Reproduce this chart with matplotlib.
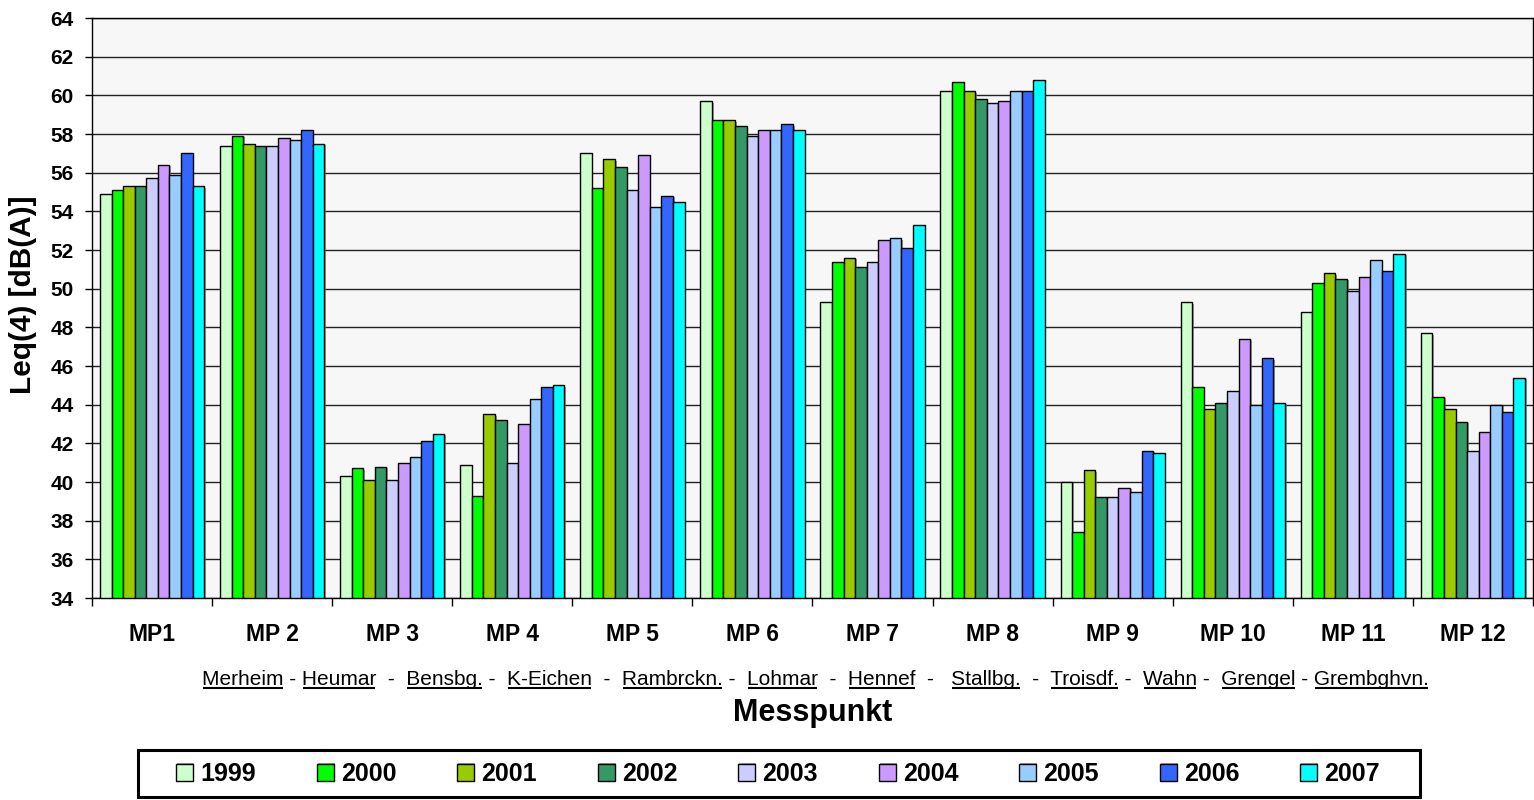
import numpy as np
import matplotlib
matplotlib.use("Agg")
import matplotlib.pyplot as plt
import matplotlib.patheffects as pe
from matplotlib.lines import Line2D
from matplotlib.patches import Rectangle
from matplotlib.font_manager import FontProperties

plt.rcParams['font.family'] = ['Liberation Sans', 'DejaVu Sans']

categories = ['MP1', 'MP 2', 'MP 3', 'MP 4', 'MP 5', 'MP 6', 'MP 7', 'MP 8', 'MP 9', 'MP 10', 'MP 11', 'MP 12']
years = ['1999', '2000', '2001', '2002', '2003', '2004', '2005', '2006', '2007']
colors = ['#CCFFCC', '#00FF00', '#99CC00', '#339966', '#CCCCFF', '#CC99FF', '#99CCFF', '#3366FF', '#00FFFF']

# rows = Messpunkt, cols = years 1999..2007
mp1 = [54.9, 55.1, 55.3, 55.3, 55.7, 56.4, 55.9, 57.0, 55.3]
mp2 = [57.4, 57.9, 57.5, 57.4, 57.4, 57.8, 57.7, 58.2, 57.5]
mp3 = [40.3, 40.7, 40.1, 40.8, 40.1, 41.0, 41.3, 42.1, 42.5]
mp4 = [40.9, 39.3, 43.5, 43.2, 41.0, 43.0, 44.3, 44.9, 45.0]
mp5 = [57.0, 55.2, 56.7, 56.3, 55.1, 56.9, 54.2, 54.8, 54.5]
mp6 = [59.7, 58.7, 58.7, 58.4, 57.9, 58.2, 58.2, 58.5, 58.2]
mp7 = [49.3, 51.4, 51.6, 51.1, 51.4, 52.5, 52.6, 52.1, 53.3]
mp8 = [60.2, 60.7, 60.2, 59.8, 59.6, 59.7, 60.2, 60.2, 60.8]
mp9 = [40.0, 37.4, 40.6, 39.2, 39.2, 39.7, 39.5, 41.6, 41.5]
mp10 = [49.3, 44.9, 43.8, 44.1, 44.7, 47.4, 44.0, 46.4, 44.1]
mp11 = [48.8, 50.3, 50.8, 50.5, 49.9, 50.6, 51.5, 50.9, 51.8]
mp12 = [47.7, 44.4, 43.8, 43.1, 41.6, 42.6, 44.0, 43.6, 45.4]
values = np.array([mp1, mp2, mp3, mp4, mp5, mp6, mp7, mp8, mp9, mp10, mp11, mp12])

places = ['Merheim', 'Heumar', 'Bensbg.', 'K-Eichen', 'Rambrckn.', 'Lohmar',
          'Hennef', 'Stallbg.', 'Troisdf.', 'Wahn', 'Grengel', 'Grembghvn.']
seps = [' - ', '  -  ', ' -  ', '  -  ', ' -  ', '  -  ', '  -   ', '  -  ', ' -  ', ' -  ', ' - ']

fig = plt.figure(figsize=(15.34, 8.0), dpi=100)
ax = fig.add_axes([0.0600, 0.2525, 0.9393, 0.725])
ax.set_facecolor('#F7F7F7')

x = np.arange(len(categories))
bw = 0.0965
shadow = [pe.SimplePatchShadow(offset=(1.2, -1.0), shadow_rgbFace='#777777', alpha=0.7), pe.Normal()]
for i, (yr, c) in enumerate(zip(years, colors)):
    off = (i - 4) * bw
    ax.bar(x + off, values[:, i] - 34, bottom=34, width=bw, color=c,
           edgecolor='black', linewidth=1.0, label=yr, zorder=3, path_effects=shadow)

ax.set_ylim(34, 64)
ax.set_xlim(-0.5, len(categories) - 0.5)
ax.set_yticks(np.arange(34, 65, 2))
ax.yaxis.grid(True, color='#222222', linewidth=1.0, zorder=1)
ax.set_axisbelow(True)
for lbl in ax.get_yticklabels():
    lbl.set_fontweight('bold')
ax.tick_params(axis='y', labelsize=15, length=5, width=1, direction='out', pad=8)

ax.set_xticks(x)
ax.set_xticklabels(categories, fontsize=16.5, fontweight='bold')
ax.tick_params(axis='x', length=0, pad=18)
ax.set_xticks(np.arange(-0.5, len(categories), 1), minor=True)
ax.tick_params(axis='x', which='minor', length=6, width=1, direction='out')

for s in ax.spines.values():
    s.set_color('black')
    s.set_linewidth(1.0)

fig.text(23 / 1534, 1 - 295 / 800, 'Leq(4) [dB(A)]', fontsize=21.5, fontweight='bold',
         rotation=90, ha='center', va='center')

# subtitle with underlined place names
fs_sub = 15
sub_parts = [places[0]]
for sep, name in zip(seps, places[1:]):
    sub_parts += [sep, name]
subtitle = ''.join(sub_parts)
x_start = 202 / 1534
y_base = 1 - 685 / 800
fig.text(x_start, y_base, subtitle, fontsize=fs_sub, ha='left', va='baseline')

fig.text(0.5 * (93 + 1533) / 1534, 1 - 713 / 800, 'Messpunkt', fontsize=22, fontweight='bold',
         ha='center', va='center')

# legend inside a separately drawn frame
fig.add_artist(Rectangle((138 / 1534, 1 - 797 / 800), (1420 - 138) / 1534, 47 / 800,
                         transform=fig.transFigure, facecolor='white', edgecolor='black',
                         linewidth=2.2, zorder=0))
leg = fig.legend(loc='center', bbox_to_anchor=(778 / 1534, 1 - 774 / 800), ncol=9,
                 prop={'size': 18, 'weight': 'bold'}, frameon=False,
                 handlelength=0.68, handleheight=0.68, handletextpad=0.28, columnspacing=2.44,
                 borderpad=0.2)
for h in leg.legend_handles:
    h.set_path_effects([pe.SimplePatchShadow(offset=(0.8, 0.8), shadow_rgbFace='#777777', alpha=0.7),
                        pe.Normal()])

fig.canvas.draw()
r = fig.canvas.get_renderer()
fp = FontProperties(family=['Liberation Sans', 'DejaVu Sans'], size=fs_sub)
x0_px = x_start * fig.bbox.width
ul_y = y_base - 3.0 / 800
prefix = ''
for part in sub_parts:
    if part in places:
        w_full, _, _ = r.get_text_width_height_descent(prefix + part, fp, ismath=False)
        w_name, _, _ = r.get_text_width_height_descent(part, fp, ismath=False)
        xa = (x0_px + w_full - w_name + 1) / fig.bbox.width
        xb = (x0_px + w_full - 1) / fig.bbox.width
        fig.add_artist(Line2D([xa, xb], [ul_y, ul_y], color='black', linewidth=1.5,
                              solid_capstyle='butt', transform=fig.transFigure))
    prefix += part

fig.savefig('out.png', dpi=100)
